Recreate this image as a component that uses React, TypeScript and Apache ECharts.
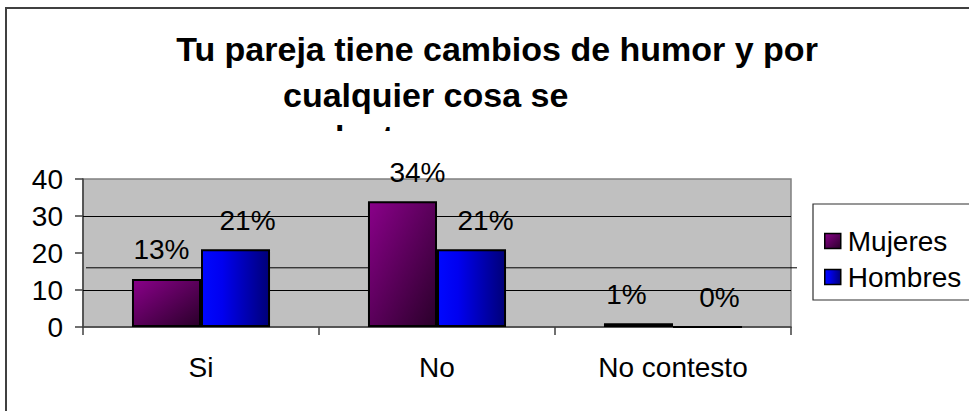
import React, { useEffect, useRef } from "react";
import * as echarts from "echarts";

const categories = ["Si", "No", "No contesto"];
const mujeres = [13, 34, 1];
const hombres = [21, 21, 0];
const seriesNames = ["Mujeres", "Hombres"];
const yMin = 0;
const yMax = 40;
const yInterval = 10;
const gridValues = [10, 30];
const strayLineValue = 16;
const titleLines = ["Tu pareja tiene cambios de humor y por", "cualquier cosa se", "molesta"];
const mujeresLabelDx = [-5, 15, -12];
const hombresLabelDx = [12, 14, 12];

const FONT = "'Liberation Sans', Arial, Helvetica, sans-serif";

export default function App() {
  const ref = useRef<HTMLDivElement>(null);

  useEffect(() => {
    if (!ref.current) return;
    const chart = echarts.init(ref.current, null, { renderer: "svg" });

    const mujeresGrad = new echarts.graphic.LinearGradient(0, 0, 1, 1, [
      { offset: 0, color: "#8a008a" },
      { offset: 0.5, color: "#5a005a" },
      { offset: 1, color: "#2a002a" },
    ]);
    const hombresGrad = new echarts.graphic.LinearGradient(0, 0, 1, 0, [
      { offset: 0, color: "#0008ff" },
      { offset: 0.3, color: "#0000f0" },
      { offset: 1, color: "#000078" },
    ]);

    const labelBase = {
      show: true,
      position: "top",
      distance: 15,
      formatter: "{c}%",
      color: "#000",
      fontSize: 28,
      fontFamily: FONT,
    };

    const option: any = {
      animation: false,
      backgroundColor: "#ffffff",
      textStyle: { fontFamily: FONT },
      grid: {
        left: 83,
        right: 178,
        top: 179,
        bottom: 84,
        show: true,
        backgroundColor: "#c0c0c0",
        borderColor: "#808080",
        borderWidth: 1.5,
        containLabel: false,
      },
      legend: {
        orient: "vertical",
        left: 824,
        top: 227,
        padding: 0,
        itemWidth: 16,
        itemHeight: 15,
        itemGap: 8,
        icon: "rect",
        itemStyle: { borderColor: "#000", borderWidth: 1.5 },
        textStyle: { fontSize: 28, fontFamily: FONT, color: "#000", padding: [0, 0, 0, 2] },
        data: seriesNames,
      },
      xAxis: {
        type: "category",
        data: categories,
        axisLine: { show: true, lineStyle: { color: "#404040", width: 1.5 } },
        axisTick: { show: true, length: 8, lineStyle: { color: "#404040", width: 1.5 } },
        axisLabel: { color: "#000", fontSize: 28, fontFamily: FONT, margin: 26 },
        splitLine: { show: false },
      },
      yAxis: {
        type: "value",
        min: yMin,
        max: yMax,
        interval: yInterval,
        axisLine: { show: true, lineStyle: { color: "#404040", width: 1.5 } },
        axisTick: { show: true, length: 8, lineStyle: { color: "#404040", width: 1.5 } },
        axisLabel: { color: "#000", fontSize: 28, fontFamily: FONT, margin: 20 },
        splitLine: { show: false },
      },
      series: [
        {
          name: seriesNames[0],
          type: "bar",
          barGap: "0%",
          barCategoryGap: "41.5%",
          itemStyle: { color: mujeresGrad, borderColor: "#000", borderWidth: 2 },
          data: mujeres.map((v, i) => ({
            value: v,
            label: { ...labelBase, offset: [mujeresLabelDx[i], 0] },
          })),
          markLine: {
            silent: true,
            symbol: "none",
            z: 1,
            label: { show: false },
            lineStyle: { color: "#000", width: 1, type: "solid" },
            data: gridValues.map((v) => ({ yAxis: v })),
          },
        },
        {
          name: seriesNames[1],
          type: "bar",
          barGap: "0%",
          barCategoryGap: "41.5%",
          itemStyle: { color: hombresGrad, borderColor: "#000", borderWidth: 2 },
          data: hombres.map((v, i) => ({
            value: v,
            label: { ...labelBase, offset: [hombresLabelDx[i], 0] },
          })),
        },
      ],
    };

    chart.setOption(option);

    const strayY = chart.convertToPixel({ yAxisIndex: 0 }, strayLineValue) as number;

    chart.setOption({
      graphic: {
        elements: [
          {
            type: "rect",
            z: 0,
            silent: true,
            shape: { x: 6, y: 8, width: 1100, height: 600 },
            style: { fill: "none", stroke: "#404040", lineWidth: 2 },
          },
          {
            type: "line",
            z: 1,
            silent: true,
            shape: { x1: 86, y1: strayY, x2: 797, y2: strayY },
            style: { stroke: "#000", lineWidth: 1 },
          },
          {
            type: "rect",
            z: 0,
            silent: true,
            shape: { x: 813, y: 204, width: 300, height: 96 },
            style: { fill: "#fff", stroke: "#303030", lineWidth: 1.2 },
          },
          {
            type: "text",
            z: 5,
            x: 497,
            y: 49,
            style: {
              text: titleLines[0],
              fill: "#000",
              font: `bold 34px ${FONT}`,
              align: "center",
              verticalAlign: "middle",
            },
          },
          {
            type: "text",
            z: 5,
            x: 283,
            y: 95,
            style: {
              text: titleLines[1],
              fill: "#000",
              font: `bold 34px ${FONT}`,
              align: "left",
              verticalAlign: "middle",
            },
          },
          {
            type: "text",
            z: 5,
            x: 284,
            y: 137,
            style: {
              text: titleLines[2],
              fill: "#000",
              font: `bold 34px ${FONT}`,
              align: "left",
              verticalAlign: "middle",
            },
          },
          {
            type: "rect",
            z: 6,
            silent: true,
            shape: { x: 270, y: 131, width: 160, height: 26 },
            style: { fill: "#fff" },
          },
        ],
      },
    });

    return () => chart.dispose();
  }, []);

  return (
    <div
      ref={ref}
      style={{ position: "fixed", left: 0, top: 0, width: 969, height: 411, background: "#fff" }}
    />
  );
}
